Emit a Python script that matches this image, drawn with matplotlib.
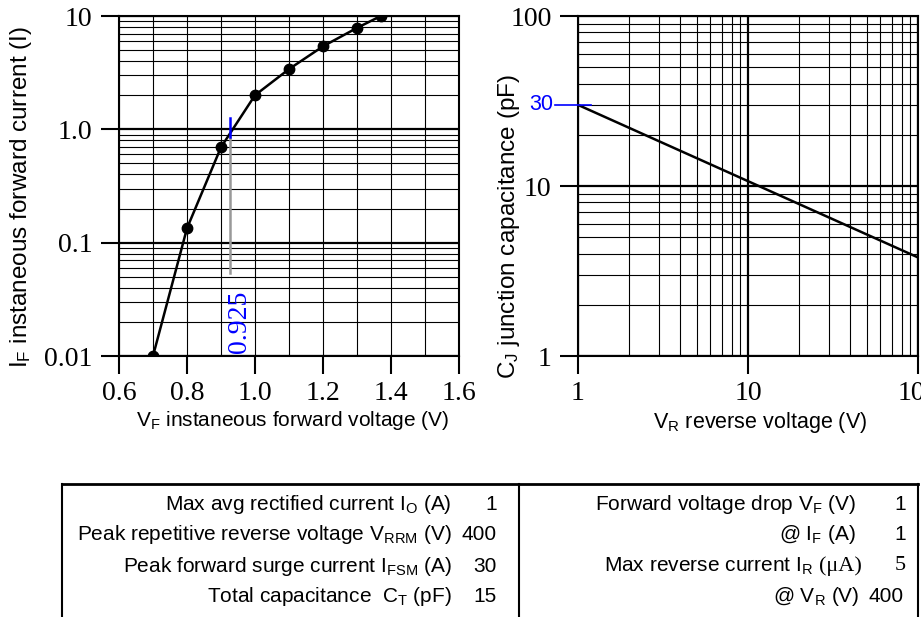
import matplotlib
matplotlib.use("Agg")
import matplotlib.pyplot as plt
from matplotlib.ticker import FixedLocator, NullFormatter, LogLocator

plt.rcParams['font.family'] = ['Liberation Serif', 'DejaVu Serif']
plt.rcParams['mathtext.default'] = 'regular'

SANS = ['Liberation Sans', 'DejaVu Sans']

# forward characteristic
vf = [0.7, 0.8, 0.9, 1.0, 1.1, 1.2, 1.3, 1.37]
i_f = [0.01, 0.134, 0.695, 2.0, 3.4, 5.4, 7.85, 10.0]
vf_mark = 0.925

# junction capacitance
vr = [1, 100]
cj = [30, 3.8]
cj_mark = 30

# spec table
left_labels = ["Max avg rectified current I$_{O}$ (A)",
               "Peak repetitive reverse voltage V$_{RRM}$ (V)",
               "Peak forward surge current I$_{FSM}$ (A)",
               "Total capacitance  C$_{T}$ (pF)"]
left_values = ["1", "400", "30", "15"]
right_labels = ["Forward voltage drop V$_{F}$ (V)",
                "@ I$_{F}$ (A)",
                "Max reverse current I$_{R}$",
                "@ V$_{R}$ (V)"]
right_values = ["1", "1", "5", "400"]

W, H = 921, 617
fig = plt.figure(figsize=(W / 100, H / 100), dpi=100)


def px_axes(x0, y0, w, h):
    return fig.add_axes([x0 / W, 1 - (y0 + h) / H, w / W, h / H])


def style(ax):
    for s in ax.spines.values():
        s.set_linewidth(1.5)
    ax.tick_params(which='major', direction='out', length=13, width=1.5,
                   labelsize=20)
    ax.tick_params(axis='x', which='major', pad=5)
    ax.tick_params(axis='y', which='major', pad=6)
    ax.tick_params(which='minor', length=0)
    ax.set_axisbelow(True)


# ---------- left chart ----------
ax1 = px_axes(119, 16, 340, 340)
ax1.set_yscale('log')
ax1.set_xlim(0.6, 1.6)
ax1.set_ylim(0.01, 10)
ax1.set_xticks([0.6, 0.8, 1.0, 1.2, 1.4, 1.6])
ax1.set_xticklabels(["0.6", "0.8", "1.0", "1.2", "1.4", "1.6"])
ax1.xaxis.set_minor_locator(FixedLocator([0.7, 0.9, 1.1, 1.3, 1.5]))
ax1.set_yticks([0.01, 0.1, 1, 10])
ax1.set_yticklabels(["0.01", "0.1", "1.0", "10"])
ax1.yaxis.set_minor_locator(LogLocator(base=10, subs=range(2, 10)))
ax1.yaxis.set_minor_formatter(NullFormatter())
style(ax1)
ax1.grid(which='both', axis='x', color='black', lw=0.8)
ax1.grid(which='major', axis='y', color='black', lw=1.6)
ax1.grid(which='minor', axis='y', color='black', lw=0.8)

ax1.plot(vf, i_f, color='black', lw=1.8, marker='o', markersize=7.5, zorder=5)
ax1.plot([vf_mark, vf_mark], [0.054, 0.86], color='#999999', lw=1.8, zorder=4)
ax1.plot([vf_mark, vf_mark], [0.86, 1.27], color='blue', lw=1.8, zorder=6)
ax1.text(vf_mark - 0.008, 0.0107, "0.925", color='blue', fontsize=20,
         rotation=90, ha='left', va='bottom', zorder=6)

ax1.set_xlabel("V$_{F}$ instaneous forward voltage (V)", family=SANS,
               fontsize=15)
ax1.set_ylabel("I$_{F}$ instaneous forward current (I)", family=SANS,
               fontsize=17.5)
ax1.xaxis.set_label_coords(0.51, -0.155)
ax1.yaxis.set_label_coords(-0.25, 0.466)

# ---------- right chart ----------
ax2 = px_axes(578, 16, 340, 340)
ax2.set_xscale('log')
ax2.set_yscale('log')
ax2.set_xlim(1, 100)
ax2.set_ylim(1, 100)
ax2.set_xticks([1, 10, 100])
ax2.set_xticklabels(["1", "10", "100"])
ax2.set_yticks([1, 10, 100])
ax2.set_yticklabels(["1", "10", "100"])
for a in (ax2.xaxis, ax2.yaxis):
    a.set_minor_locator(LogLocator(base=10, subs=range(2, 10)))
    a.set_minor_formatter(NullFormatter())
style(ax2)
ax2.grid(which='major', color='black', lw=1.6)
ax2.grid(which='minor', color='black', lw=0.8)

ax2.plot(vr, cj, color='black', lw=1.8, zorder=5)
tr = ax2.get_yaxis_transform()
ax2.plot([-23 / 340, 13 / 340], [cj_mark, cj_mark], color='blue', lw=1.2,
         transform=tr, clip_on=False, zorder=6)
ax2.text(-25 / 340, cj_mark, str(cj_mark), color='blue', fontsize=15.5,
         family=SANS, ha='right', va='center', transform=tr)

ax2.set_xlabel("V$_{R}$ reverse voltage (V)", family=SANS, fontsize=15.5)
ax2.set_ylabel("C$_{J}$ junction capacitance (pF)", family=SANS,
               fontsize=17.5)
ax2.xaxis.set_label_coords(0.535, -0.16)
ax2.yaxis.set_label_coords(-0.165, 0.38)

# ---------- spec table ----------
tb = fig.add_axes([0, 0, 1, 1])
tb.set_xlim(0, W)
tb.set_ylim(H, 0)
tb.axis('off')
tb.patch.set_alpha(0)
tb.plot([62, 918], [484, 484], color='black', lw=2)
for x in (62, 519, 918):
    tb.plot([x, x], [484, H + 5], color='black', lw=1.5)

rows_y = [504, 534, 566, 597]
for y, lab, val in zip(rows_y, left_labels, left_values):
    tb.text(452, y, lab, family=SANS, fontsize=15, ha='right', va='center')
    tb.text(497, y, val, family=SANS, fontsize=15, ha='right', va='center')

lab_x = [856, 856, 862, 860]
val_x = [906, 906, 906, 904]
for k, (y, lab, val) in enumerate(zip(rows_y, right_labels, right_values)):
    if k == 2:
        unit = tb.text(lab_x[k], y, "(\u03bcA)", fontsize=16, ha='right',
                       va='center')
        tb.annotate(lab, xy=(0, 0.5), xycoords=unit, xytext=(-4, 0),
                    textcoords='offset points', family=SANS, fontsize=15,
                    ha='right', va='center')
        tb.text(val_x[k], y, val, fontsize=16, ha='right', va='center')
    else:
        tb.text(lab_x[k], y, lab, family=SANS, fontsize=15, ha='right',
                va='center')
        tb.text(val_x[k], y, val, family=SANS, fontsize=15, ha='right',
                va='center')

fig.savefig("out.png", dpi=100)
